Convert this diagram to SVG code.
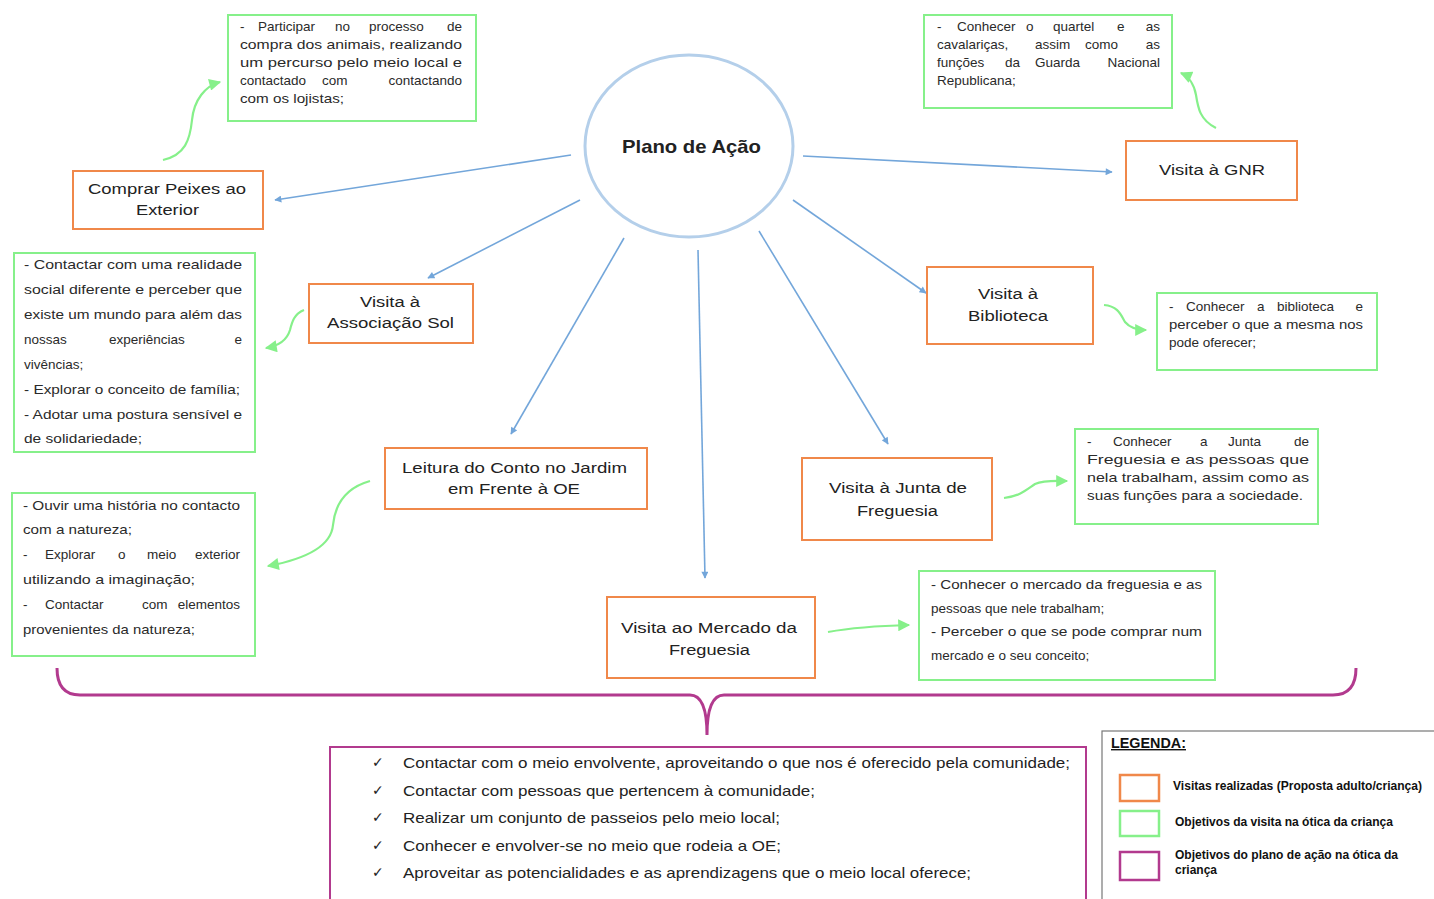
<svg xmlns="http://www.w3.org/2000/svg" width="1434" height="899" viewBox="0 0 1434 899">
<style>
.bg{fill:#ffffff}
.visit rect{fill:#ffffff;stroke:#f0884a;stroke-width:2}
.goal rect{fill:#ffffff;stroke:#86f08a;stroke-width:2}
.vt{font-family:"Liberation Sans",Arial,sans-serif;font-size:15.5px;fill:#222}
.gt{font-family:"Liberation Sans",Arial,sans-serif;font-size:13.5px;fill:#2a2a2a}
.end{text-anchor:end}
.blue{fill:none;stroke:#73a6da;stroke-width:1.6}
.green{fill:none;stroke:#86f08a;stroke-width:2.2}
.pt{font-family:"Liberation Sans",Arial,sans-serif;font-size:15px;fill:#222}
.ck{font-family:"DejaVu Sans",sans-serif;font-size:14px;fill:#222}
.lt{font-family:"Liberation Sans",Arial,sans-serif;font-size:12px;font-weight:bold;fill:#111}
</style>
<defs>
<marker id="ab" viewBox="0 0 10 10" refX="9" refY="5" markerWidth="8" markerHeight="7" markerUnits="userSpaceOnUse" orient="auto">
<path d="M0,0 L10,5 L0,10 Z" fill="#73a6da"/>
</marker>
<marker id="ag" viewBox="0 0 10 10" refX="9" refY="5" markerWidth="13" markerHeight="12" markerUnits="userSpaceOnUse" orient="auto">
<path d="M0,0 L10,5 L0,10 Z" fill="#86f08a"/>
</marker>
</defs>
<rect class="bg" x="0" y="0" width="1434" height="899"/>

<g id="connectors">
<line class="blue" x1="571" y1="155" x2="275" y2="200" marker-end="url(#ab)"/>
<line class="blue" x1="580" y1="200" x2="428" y2="278" marker-end="url(#ab)"/>
<line class="blue" x1="624" y1="238" x2="511" y2="434" marker-end="url(#ab)"/>
<line class="blue" x1="698" y1="250" x2="705" y2="578" marker-end="url(#ab)"/>
<line class="blue" x1="759" y1="231" x2="888" y2="444" marker-end="url(#ab)"/>
<line class="blue" x1="793" y1="200" x2="926" y2="293" marker-end="url(#ab)"/>
<line class="blue" x1="803" y1="156" x2="1112" y2="172" marker-end="url(#ab)"/>
<path class="green" d="M163,160 C185,155 190,140 192,120 C194,100 205,86 220,82" marker-end="url(#ag)"/>
<path class="green" d="M304,310 C294,314 292,322 290,330 C287,340 278,346 266,348" marker-end="url(#ag)"/>
<path class="green" d="M370,481 C345,488 335,505 333,525 C331,548 300,560 268,566" marker-end="url(#ag)"/>
<path class="green" d="M1216,128 C1200,120 1198,108 1196,95 C1194,84 1188,76 1181,73" marker-end="url(#ag)"/>
<path class="green" d="M1104,305 C1118,306 1121,315 1125,322 C1130,328 1138,330 1146,330" marker-end="url(#ag)"/>
<path class="green" d="M1004,498 C1020,496 1026,490 1035,484 C1044,480 1055,481 1067,481" marker-end="url(#ag)"/>
<path class="green" d="M828,632 C850,628 870,626 909,625" marker-end="url(#ag)"/>
<path d="M57,668 Q57,695 80,695 L690,695 Q707,695 707,735 Q707,695 724,695 L1333,695 Q1356,695 1356,668" fill="none" stroke="#b23a8e" stroke-width="3"/>
</g>

<g id="center">
<ellipse cx="689" cy="146" rx="104" ry="91" fill="#ffffff" stroke="#b4cfea" stroke-width="3"/>
<text x="622" y="153" textLength="139" lengthAdjust="spacingAndGlyphs" font-family="Liberation Sans, Arial, sans-serif" font-size="18.5" font-weight="bold" fill="#222">Plano de Ação</text>
</g>

<g id="n-comprar" class="visit">
<rect x="73" y="171" width="190" height="58"/>
<text class="vt" x="88" y="194" textLength="158" lengthAdjust="spacingAndGlyphs">Comprar Peixes ao</text>
<text class="vt" x="136" y="215" textLength="63" lengthAdjust="spacingAndGlyphs">Exterior</text>
</g>
<g id="n-gnr" class="visit">
<rect x="1126" y="141" width="171" height="59"/>
<text class="vt" x="1159" y="175" textLength="106" lengthAdjust="spacingAndGlyphs">Visita à GNR</text>
</g>
<g id="n-assoc" class="visit">
<rect x="309" y="284" width="164" height="59"/>
<text class="vt" x="360" y="307" textLength="60" lengthAdjust="spacingAndGlyphs">Visita à</text>
<text class="vt" x="327" y="328" textLength="127" lengthAdjust="spacingAndGlyphs">Associação Sol</text>
</g>
<g id="n-biblio" class="visit">
<rect x="927" y="267" width="166" height="77"/>
<text class="vt" x="978" y="299" textLength="60" lengthAdjust="spacingAndGlyphs">Visita à</text>
<text class="vt" x="968" y="321" textLength="80" lengthAdjust="spacingAndGlyphs">Biblioteca</text>
</g>
<g id="n-leitura" class="visit">
<rect x="385" y="448" width="262" height="61"/>
<text class="vt" x="402" y="473" textLength="225" lengthAdjust="spacingAndGlyphs">Leitura do Conto no Jardim</text>
<text class="vt" x="448" y="494" textLength="132" lengthAdjust="spacingAndGlyphs">em Frente à OE</text>
</g>
<g id="n-junta" class="visit">
<rect x="802" y="458" width="190" height="82"/>
<text class="vt" x="829" y="493" textLength="138" lengthAdjust="spacingAndGlyphs">Visita à Junta de</text>
<text class="vt" x="857" y="516" textLength="81" lengthAdjust="spacingAndGlyphs">Freguesia</text>
</g>
<g id="n-mercado" class="visit">
<rect x="607" y="597" width="208" height="81"/>
<text class="vt" x="621" y="633" textLength="176" lengthAdjust="spacingAndGlyphs">Visita ao Mercado da</text>
<text class="vt" x="669" y="655" textLength="81" lengthAdjust="spacingAndGlyphs">Freguesia</text>
</g>

<g id="g-comprar" class="goal">
<rect x="228" y="15" width="248" height="106"/>
<text class="gt" x="240" y="31">-</text>
<text class="gt" x="258" y="31">Participar</text>
<text class="gt" x="335" y="31">no</text>
<text class="gt" x="369" y="31">processo</text>
<text class="gt end" x="462" y="31">de</text>
<text class="gt" x="240" y="49" textLength="222" lengthAdjust="spacingAndGlyphs">compra dos animais, realizando</text>
<text class="gt" x="240" y="67" textLength="222" lengthAdjust="spacingAndGlyphs">um percurso pelo meio local e</text>
<text class="gt" x="240" y="85">contactado</text>
<text class="gt" x="322" y="85">com</text>
<text class="gt end" x="462" y="85">contactando</text>
<text class="gt" x="240" y="103" textLength="104" lengthAdjust="spacingAndGlyphs">com os lojistas;</text>
</g>
<g id="g-gnr" class="goal">
<rect x="924" y="15" width="248" height="93"/>
<text class="gt" x="937" y="31">-</text>
<text class="gt" x="957" y="31">Conhecer</text>
<text class="gt" x="1026" y="31">o</text>
<text class="gt" x="1053" y="31">quartel</text>
<text class="gt" x="1117" y="31">e</text>
<text class="gt end" x="1160" y="31">as</text>
<text class="gt" x="937" y="49">cavalariças,</text>
<text class="gt" x="1035" y="49">assim</text>
<text class="gt" x="1085" y="49">como</text>
<text class="gt end" x="1160" y="49">as</text>
<text class="gt" x="937" y="67">funções</text>
<text class="gt" x="1005" y="67">da</text>
<text class="gt" x="1035" y="67">Guarda</text>
<text class="gt end" x="1160" y="67">Nacional</text>
<text class="gt" x="937" y="85">Republicana;</text>
</g>
<g id="g-assoc" class="goal">
<rect x="14" y="253" width="241" height="199"/>
<text class="gt" x="24" y="269" textLength="218" lengthAdjust="spacingAndGlyphs">- Contactar com uma realidade</text>
<text class="gt" x="24" y="294" textLength="218" lengthAdjust="spacingAndGlyphs">social diferente e perceber que</text>
<text class="gt" x="24" y="319" textLength="218" lengthAdjust="spacingAndGlyphs">existe um mundo para além das</text>
<text class="gt" x="24" y="344">nossas</text>
<text class="gt" x="109" y="344">experiências</text>
<text class="gt end" x="242" y="344">e</text>
<text class="gt" x="24" y="369">vivências;</text>
<text class="gt" x="24" y="394" textLength="216" lengthAdjust="spacingAndGlyphs">- Explorar o conceito de família;</text>
<text class="gt" x="24" y="419" textLength="218" lengthAdjust="spacingAndGlyphs">- Adotar uma postura sensível e</text>
<text class="gt" x="24" y="443" textLength="118" lengthAdjust="spacingAndGlyphs">de solidariedade;</text>
</g>
<g id="g-leitura" class="goal">
<rect x="12" y="493" width="243" height="163"/>
<text class="gt" x="23" y="510" textLength="217" lengthAdjust="spacingAndGlyphs">- Ouvir uma história no contacto</text>
<text class="gt" x="23" y="534" textLength="109" lengthAdjust="spacingAndGlyphs">com a natureza;</text>
<text class="gt" x="23" y="559">-</text>
<text class="gt" x="45" y="559">Explorar</text>
<text class="gt" x="118" y="559">o</text>
<text class="gt" x="147" y="559">meio</text>
<text class="gt end" x="240" y="559">exterior</text>
<text class="gt" x="23" y="584" textLength="172" lengthAdjust="spacingAndGlyphs">utilizando a imaginação;</text>
<text class="gt" x="23" y="609">-</text>
<text class="gt" x="45" y="609">Contactar</text>
<text class="gt" x="142" y="609">com</text>
<text class="gt end" x="240" y="609">elementos</text>
<text class="gt" x="23" y="634" textLength="172" lengthAdjust="spacingAndGlyphs">provenientes da natureza;</text>
</g>
<g id="g-biblio" class="goal">
<rect x="1157" y="293" width="220" height="77"/>
<text class="gt" x="1169" y="311">-</text>
<text class="gt" x="1186" y="311">Conhecer</text>
<text class="gt" x="1257" y="311">a</text>
<text class="gt" x="1277" y="311">biblioteca</text>
<text class="gt end" x="1363" y="311">e</text>
<text class="gt" x="1169" y="329" textLength="194" lengthAdjust="spacingAndGlyphs">perceber o que a mesma nos</text>
<text class="gt" x="1169" y="347">pode oferecer;</text>
</g>
<g id="g-junta" class="goal">
<rect x="1075" y="429" width="243" height="95"/>
<text class="gt" x="1087" y="446">-</text>
<text class="gt" x="1113" y="446">Conhecer</text>
<text class="gt" x="1200" y="446">a</text>
<text class="gt" x="1228" y="446">Junta</text>
<text class="gt end" x="1309" y="446">de</text>
<text class="gt" x="1087" y="464" textLength="222" lengthAdjust="spacingAndGlyphs">Freguesia e as pessoas que</text>
<text class="gt" x="1087" y="482" textLength="222" lengthAdjust="spacingAndGlyphs">nela trabalham, assim como as</text>
<text class="gt" x="1087" y="500" textLength="216" lengthAdjust="spacingAndGlyphs">suas funções para a sociedade.</text>
</g>
<g id="g-mercado" class="goal">
<rect x="919" y="571" width="296" height="109"/>
<text class="gt" x="931" y="589" textLength="271" lengthAdjust="spacingAndGlyphs">- Conhecer o mercado da freguesia e as</text>
<text class="gt" x="931" y="612.5">pessoas que nele trabalham;</text>
<text class="gt" x="931" y="636" textLength="271" lengthAdjust="spacingAndGlyphs">- Perceber o que se pode comprar num</text>
<text class="gt" x="931" y="660">mercado e o seu conceito;</text>
</g>

<g id="plan-goals">
<rect x="330" y="747" width="756" height="160" fill="#ffffff" stroke="#b23a8e" stroke-width="2"/>
<text class="ck" x="372" y="767">✓</text>
<text class="ck" x="372" y="795">✓</text>
<text class="ck" x="372" y="822">✓</text>
<text class="ck" x="372" y="850">✓</text>
<text class="ck" x="372" y="877">✓</text>
<text class="pt" x="403" y="768" textLength="667" lengthAdjust="spacingAndGlyphs">Contactar com o meio envolvente, aproveitando o que nos é oferecido pela comunidade;</text>
<text class="pt" x="403" y="796" textLength="412" lengthAdjust="spacingAndGlyphs">Contactar com pessoas que pertencem à comunidade;</text>
<text class="pt" x="403" y="823" textLength="377" lengthAdjust="spacingAndGlyphs">Realizar um conjunto de passeios pelo meio local;</text>
<text class="pt" x="403" y="851" textLength="378" lengthAdjust="spacingAndGlyphs">Conhecer e envolver-se no meio que rodeia a OE;</text>
<text class="pt" x="403" y="878" textLength="568" lengthAdjust="spacingAndGlyphs">Aproveitar as potencialidades e as aprendizagens que o meio local oferece;</text>
</g>

<g id="legend">
<rect x="1102" y="731" width="340" height="180" fill="#ffffff" stroke="#777" stroke-width="1.2"/>
<text x="1111" y="748" textLength="75" lengthAdjust="spacingAndGlyphs" font-family="Liberation Sans, Arial, sans-serif" font-size="14" font-weight="bold" text-decoration="underline" fill="#111">LEGENDA:</text>
<rect x="1120" y="775" width="39" height="26" fill="none" stroke="#f0884a" stroke-width="2.5"/>
<rect x="1120" y="811" width="39" height="25" fill="none" stroke="#86f08a" stroke-width="2.5"/>
<rect x="1120" y="852" width="39" height="28" fill="none" stroke="#b23a8e" stroke-width="2.5"/>
<text class="lt" x="1173" y="790" textLength="249" lengthAdjust="spacingAndGlyphs">Visitas realizadas (Proposta adulto/criança)</text>
<text class="lt" x="1175" y="826" textLength="218" lengthAdjust="spacingAndGlyphs">Objetivos da visita na ótica da criança</text>
<text class="lt" x="1175" y="859" textLength="223" lengthAdjust="spacingAndGlyphs">Objetivos do plano de ação na ótica da</text>
<text class="lt" x="1175" y="874" textLength="42" lengthAdjust="spacingAndGlyphs">criança</text>
</g>
</svg>
